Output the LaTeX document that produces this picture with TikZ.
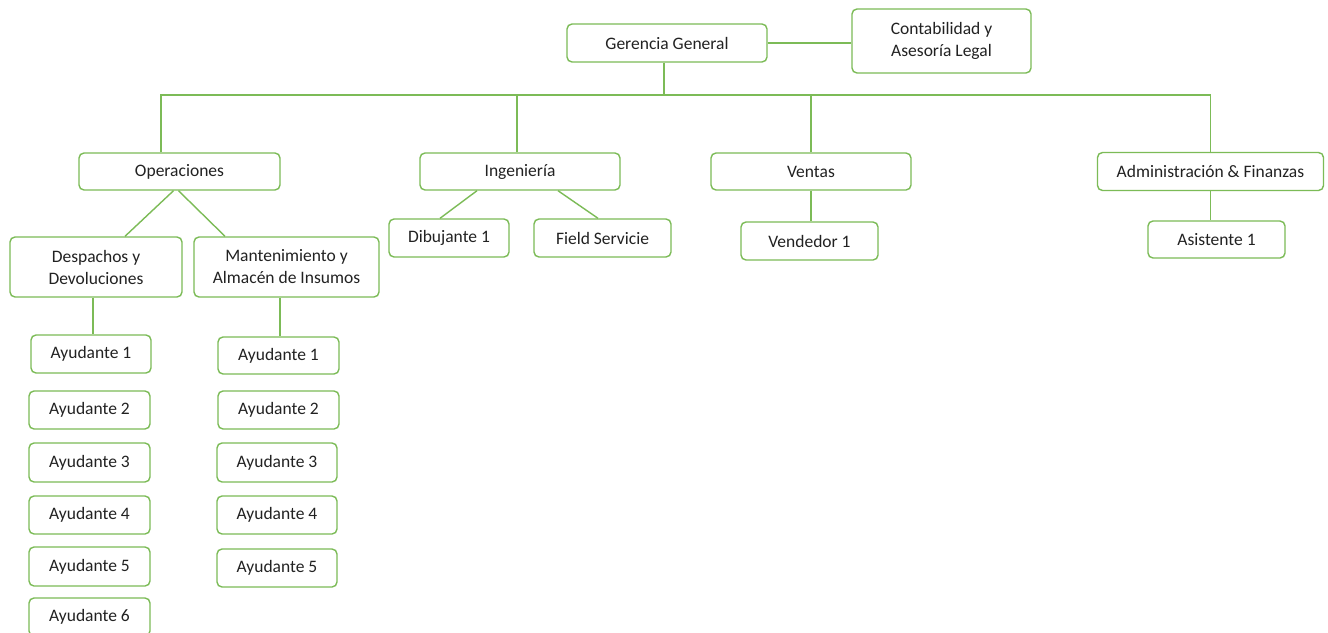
\documentclass[tikz,border=0pt]{standalone}
\usepackage{fontspec}
\setmainfont{Carlito}
\definecolor{grn}{HTML}{7CBB57}
\definecolor{txt}{HTML}{222222}
\tikzset{
  box/.style={draw=grn, line width=1.4pt, rounded corners=5pt, fill=white,
    text=txt, align=center, inner sep=0pt, font=\fontsize{17.5}{22}\selectfont},
  conn/.style={draw=grn, line width=1.4pt}
}
\begin{document}
\begin{tikzpicture}[x=1pt,y=-1pt]
\useasboundingbox[fill=white] (0,0) rectangle (1328,632);
% top
\node[box, minimum width=200pt, minimum height=38pt] (gg) at (667,43) {Gerencia General};
\node[box, minimum width=179pt, minimum height=64pt] (cont) at (941.5,41) {Contabilidad y\\Asesoría Legal};
% level 2
\node[box, minimum width=201pt, minimum height=37pt] (ops) at (179.5,171.5) {Operaciones};
\node[box, minimum width=200pt, minimum height=37pt] (ing) at (520,171.5) {Ingeniería};
\node[box, minimum width=200pt, minimum height=37pt] (ven) at (811,171.5) {Ventas};
\node[box, minimum width=226pt, minimum height=38pt] (adm) at (1210.5,171.5) {Administración \& Finanzas};
% level 3
\node[box, minimum width=172pt, minimum height=60pt] (desp) at (96,267) {Despachos y\\Devoluciones};
\node[box, minimum width=185pt, minimum height=60pt] (mant) at (286.5,267) {Mantenimiento y\\Almacén de Insumos};
\node[box, minimum width=120pt, minimum height=38pt] (dib) at (449,238) {Dibujante 1};
\node[box, minimum width=137pt, minimum height=38pt] (fs) at (602.5,238) {Field Servicie};
\node[box, minimum width=137pt, minimum height=38pt] (vend) at (809.5,241) {Vendedor 1};
\node[box, minimum width=137pt, minimum height=37pt] (asis) at (1216.5,239.5) {Asistente 1};
% left helpers
\node[box, minimum width=120pt, minimum height=38pt] (L1) at (91,354) {Ayudante 1};
\node[box, minimum width=121pt, minimum height=38pt] (L2) at (89.5,410) {Ayudante 2};
\node[box, minimum width=121pt, minimum height=39pt] (L3) at (89.5,462.5) {Ayudante 3};
\node[box, minimum width=121pt, minimum height=38pt] (L4) at (89.5,515) {Ayudante 4};
\node[box, minimum width=121pt, minimum height=39pt] (L5) at (89.5,566.5) {Ayudante 5};
\node[box, minimum width=121pt, minimum height=38pt] (L6) at (89.5,617) {Ayudante 6};
% right helpers
\node[box, minimum width=121pt, minimum height=37pt] (R1) at (278.5,355.5) {Ayudante 1};
\node[box, minimum width=121pt, minimum height=38pt] (R2) at (278.5,410) {Ayudante 2};
\node[box, minimum width=120pt, minimum height=39pt] (R3) at (277,462.5) {Ayudante 3};
\node[box, minimum width=120pt, minimum height=38pt] (R4) at (277,515) {Ayudante 4};
\node[box, minimum width=120pt, minimum height=38pt] (R5) at (277,568) {Ayudante 5};
% connectors
\coordinate (bus) at (664,95);
\draw[conn] (gg.east) -- (gg.east -| cont.west);
\draw[conn] ([xshift=-3pt]gg.south) -- (bus);
\draw[conn] ([xshift=-18.5pt]ops.north) |- (bus) -| (adm.north);
\draw[conn] ([xshift=-3pt]ing.north) -- ([xshift=-3pt]ing.north |- bus);
\draw[conn] (ven.north) -- (ven.north |- bus);
\draw[conn] ([xshift=-6pt]ops.south) -- ([xshift=29pt]desp.north);
\draw[conn] ([xshift=-1pt]ops.south) -- ([xshift=-61.5pt]mant.north);
\draw[conn] ([xshift=-43pt]ing.south) -- ([xshift=-9pt]dib.north);
\draw[conn] ([xshift=38pt]ing.south) -- ([xshift=-4.5pt]fs.north);
\draw[conn] (ven.south) -- (ven.south |- vend.north);
\draw[conn] (adm.south) -- (adm.south |- asis.north);
\draw[conn] ([xshift=-3pt]desp.south) -- ([xshift=-3pt]desp.south |- L1.north);
\draw[conn] ([xshift=-6.5pt]mant.south) -- ([xshift=-6.5pt]mant.south |- R1.north);
\end{tikzpicture}
\end{document}
